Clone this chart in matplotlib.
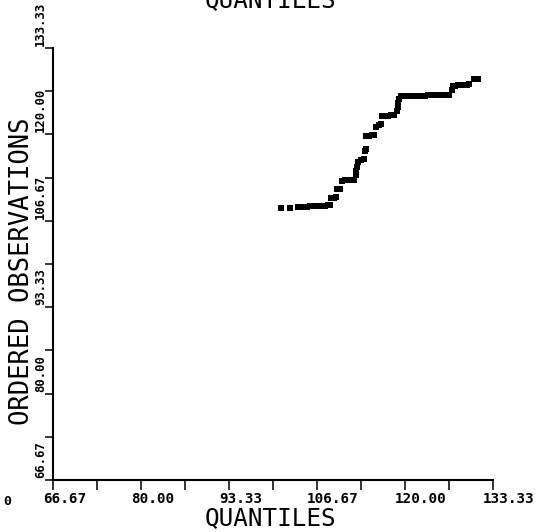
import matplotlib
matplotlib.use("Agg")
import matplotlib.pyplot as plt
from matplotlib.transforms import offset_copy, blended_transform_factory

# Normal quantiles against the sorted sample
quantiles = [
    101.2, 102.6,
    103.8, 104.2, 104.7, 105.2, 105.6, 106.1, 106.5, 107.0, 107.4, 107.9, 108.3, 108.6,
    108.8, 109.2, 109.5,
    109.7, 110.2,
    110.5, 110.9, 111.4, 111.8, 112.3,
    112.6, 112.6, 112.7,
    112.9, 113.3, 113.8,
    113.9, 114.1,
    114.1, 114.5, 115.0, 115.3,
    115.6, 116.1, 116.4,
    116.5, 117.0, 117.4, 117.9, 118.3,
    118.8, 118.9, 118.9, 119.1,
    119.4, 119.85, 120.3, 120.8, 121.2, 121.7, 122.1, 122.6, 123.0, 123.5,
    123.9, 124.4, 124.85, 125.3, 125.8, 126.2, 126.7,
    127.1, 127.3,
    127.6, 128.0, 128.5, 128.9, 129.4, 129.7,
    130.5, 131.1,
]
observations = [
    108.7, 108.7,
    108.8, 108.8, 108.8, 108.8, 108.9, 108.9, 108.9, 109.0, 109.0, 109.0, 109.1, 109.1,
    110.2, 110.2, 110.3,
    111.5, 111.6,
    112.8, 112.9, 112.9, 113.0, 113.0,
    113.7, 114.3, 114.9,
    115.8, 116.1, 116.2,
    117.5, 117.8,
    119.7, 119.8, 119.9, 119.9,
    121.2, 121.4, 121.6,
    122.8, 122.9, 122.9, 123.0, 123.0,
    123.6, 124.2, 124.8, 125.4,
    125.9, 126.0, 126.0, 126.0, 126.0, 126.0, 126.0, 126.0, 126.0, 126.1,
    126.1, 126.1, 126.1, 126.1, 126.1, 126.1, 126.1,
    126.8, 127.4,
    127.5, 127.6, 127.6, 127.6, 127.6, 127.7,
    128.5, 128.6,
]

tick_values = [66.67, 73.33, 80.00, 86.67, 93.33, 100.00,
               106.67, 113.33, 120.00, 126.67, 133.33]
label_values = [66.67, 80.00, 93.33, 106.67, 120.00, 133.33]
label_texts = ["66.67", "80.00", "93.33", "106.67", "120.00", "133.33"]

W, H = 541, 532
fig = plt.figure(figsize=(W / 100, H / 100), dpi=100)
ax = fig.add_axes([53 / W, 1 - 480 / H, 440 / W, 432 / H])

mono = "DejaVu Sans Mono"

ax.plot(quantiles, observations, linestyle="none", marker="s",
        markersize=4.5, color="black", markeredgewidth=0, clip_on=False)

ax.set_xlim(66.67, 133.33)
ax.set_ylim(66.67, 133.33)
for side in ("top", "right"):
    ax.spines[side].set_visible(False)
for side in ("left", "bottom"):
    ax.spines[side].set_linewidth(1.5)
    ax.spines[side].set_color("black")

ax.set_xticks(tick_values)
ax.set_yticks(tick_values)
ax.set_xticklabels([])
ax.set_yticklabels([])
ax.tick_params(axis="x", direction="out", length=7.2, width=1.1, color="black")
ax.tick_params(axis="y", direction="out", length=5.5, width=1.1, color="black")

# tick labels: x labels start a little left of their tick, y labels run upward from theirs
xtrans = offset_copy(blended_transform_factory(ax.transData, ax.transAxes),
                     fig=fig, x=-10, y=-23, units="dots")
for v, t in zip(label_values, label_texts):
    ax.text(v, 0, t, transform=xtrans, ha="left", va="baseline",
            fontsize=10.3, fontweight="bold", family=mono, clip_on=False)

ytrans = offset_copy(blended_transform_factory(ax.transAxes, ax.transData),
                     fig=fig, x=-6, y=2, units="dots")
for v, t in zip(label_values, label_texts):
    ax.text(0, v, t, transform=ytrans, ha="right", va="bottom", rotation=90,
            fontsize=8.8, fontweight="bold", family=mono, clip_on=False)

fig.text(3 / W, 1 - 505 / H, "0", ha="left", va="baseline",
         fontsize=9.5, fontweight="bold", family=mono)

fig.text(270 / W, 1 - 525 / H, "QUANTILES", ha="center", va="baseline",
         fontsize=17.5, family=mono)
fig.text(22 / W, 1 - 271.5 / H, "ORDERED OBSERVATIONS", ha="center", va="center",
         rotation=90, fontsize=18.4, family=mono)
fig.text(270 / W, 1 - 7 / H, "QUANTILES", ha="center", va="baseline",
         fontsize=17.5, family=mono)

fig.savefig("out.png", dpi=100, facecolor="white")
